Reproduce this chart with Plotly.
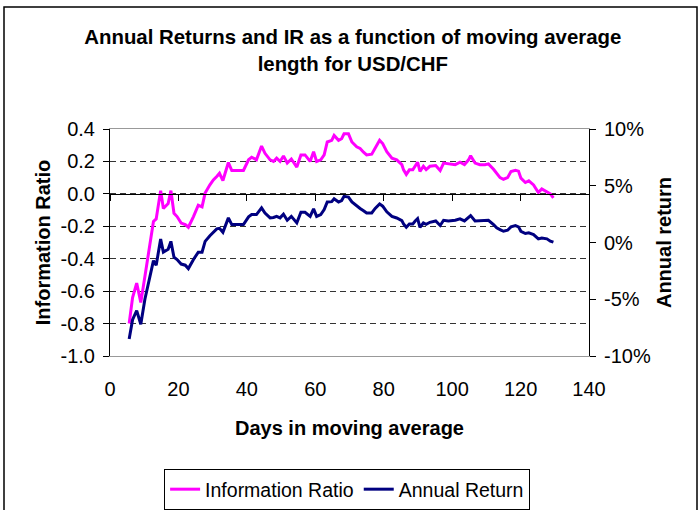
import plotly.graph_objects as go

# Days in moving average (x positions)
days = [5.6, 6.6, 7.8, 9.0, 10.2, 12.7, 13.5, 14.8, 15.6, 17.0, 17.8, 18.7, 19.6,
        20.8, 22.0, 22.9, 24.4, 25.8, 26.9, 27.8, 29.2, 30.2, 31.2, 32.0, 33.0,
        34.6, 35.6, 39.0, 40.5, 41.4, 42.8, 44.3, 45.3, 46.8, 47.8, 48.7, 49.7,
        50.7, 51.8, 53.0, 54.6, 55.8, 57.0, 58.5, 59.5, 60.4, 61.6, 62.6, 63.5,
        64.8, 65.5, 66.8, 67.7, 68.4, 69.7, 70.7, 72.1, 73.1, 74.1, 75.0, 76.5,
        77.5, 78.8, 79.7, 80.9, 82.4, 83.8, 85.3, 85.8, 86.6, 87.5, 88.5, 89.2,
        89.9, 90.6, 91.6, 92.4, 93.5, 95.2, 96.5, 97.5, 98.9, 100.9, 102.3, 103.6,
        104.8, 105.4, 106.7, 108.1, 109.6, 110.6, 112.1, 113.0, 114.0, 115.0,
        116.2, 117.2, 118.5, 119.4, 120.1, 121.4, 122.4, 123.8, 125.2, 126.2,
        127.7, 128.7, 129.6]

information_ratio = [-0.80, -0.64, -0.55, -0.67, -0.51, -0.17, -0.155, 0.02, -0.09, -0.06,
                     0.02, -0.12, -0.14, -0.18, -0.19, -0.206, -0.14, -0.07, -0.08, 0.005,
                     0.056, 0.086, 0.107, 0.127, 0.082, 0.193, 0.144, 0.144, 0.21, 0.226,
                     0.21, 0.295, 0.25, 0.21, 0.20, 0.22, 0.20, 0.234, 0.19, 0.215, 0.165,
                     0.24, 0.24, 0.20, 0.26, 0.20, 0.21, 0.24, 0.32, 0.33, 0.36, 0.33, 0.34,
                     0.37, 0.37, 0.32, 0.29, 0.28, 0.257, 0.24, 0.245, 0.28, 0.33, 0.31,
                     0.26, 0.22, 0.21, 0.18, 0.148, 0.12, 0.148, 0.148, 0.17, 0.195, 0.138,
                     0.17, 0.15, 0.17, 0.175, 0.144, 0.19, 0.185, 0.18, 0.195, 0.18, 0.21,
                     0.235, 0.19, 0.18, 0.18, 0.185, 0.152, 0.128, 0.10, 0.09, 0.10, 0.138,
                     0.145, 0.14, 0.097, 0.07, 0.08, 0.055, 0.008, 0.03, 0.015, 0.0, -0.025]

annual_return = [-0.085, -0.068, -0.060, -0.072, -0.050, -0.016, -0.020, 0.003, -0.0085,
                 -0.006, 0.001, -0.013, -0.015, -0.019, -0.020, -0.023, -0.015, -0.0085,
                 -0.0085, 0.001, 0.006, 0.009, 0.012, 0.0125, 0.009, 0.0217, 0.0158,
                 0.0158, 0.0226, 0.0246, 0.0246, 0.0305, 0.026, 0.0217, 0.022, 0.023,
                 0.0217, 0.025, 0.0196, 0.023, 0.0173, 0.0266, 0.0266, 0.023, 0.0296,
                 0.023, 0.0246, 0.029, 0.0357, 0.036, 0.0386, 0.0357, 0.037, 0.0407,
                 0.040, 0.0357, 0.032, 0.030, 0.028, 0.026, 0.026, 0.030, 0.034, 0.032,
                 0.027, 0.023, 0.0216, 0.0193, 0.0164, 0.0134, 0.0164, 0.0164, 0.019,
                 0.021, 0.0134, 0.0172, 0.016, 0.0178, 0.019, 0.015, 0.0196, 0.019,
                 0.0196, 0.0208, 0.019, 0.022, 0.0237, 0.019, 0.019, 0.019, 0.0196,
                 0.0158, 0.0129, 0.0114, 0.0099, 0.0108, 0.0138, 0.0149, 0.0138, 0.0099,
                 0.0079, 0.0085, 0.007, 0.0032, 0.004, 0.0032, 0.0012, 0.0003]

x_ticks = [0, 20, 40, 60, 80, 100, 120, 140]
ir_ticks = [0.4, 0.2, 0.0, -0.2, -0.4, -0.6, -0.8, -1.0]
ir_tick_labels = ["0.4", "0.2", "0.0", "-0.2", "-0.4", "-0.6", "-0.8", "-1.0"]
ret_ticks = [0.10, 0.05, 0.0, -0.05, -0.10]
ret_tick_labels = ["10%", "5%", "0%", "-5%", "-10%"]

FONT = "Liberation Sans, Arial, sans-serif"

fig = go.Figure()
fig.add_trace(go.Scatter(x=days, y=information_ratio, name="Information Ratio",
                         mode="lines", line=dict(color="#FF00FF", width=3),
                         yaxis="y"))
fig.add_trace(go.Scatter(x=days, y=annual_return, name="Annual Return",
                         mode="lines", line=dict(color="#000080", width=3),
                         yaxis="y2"))
# helper trace so the zero-crossing tick axis is drawn
fig.add_trace(go.Scatter(x=[None], y=[None], xaxis="x2", yaxis="y",
                         showlegend=False, hoverinfo="skip"))

fig.update_layout(
    width=700, height=510,
    margin=dict(l=110, r=111, t=129, b=154),
    paper_bgcolor="white", plot_bgcolor="white",
    font=dict(family=FONT, size=20, color="black"),
    title=dict(text="Annual Returns and IR as a function of moving average<br>length for USD/CHF",
               x=0.504, xref="container", xanchor="center",
               y=1 - 44 / 510, yref="container", yanchor="top",
               font=dict(family=FONT, size=20.4, color="black", weight="bold")),
    xaxis=dict(range=[0, 140], tickvals=x_ticks, ticks="", showgrid=False,
               zeroline=False, showline=True, linecolor="#999999", linewidth=1,
               mirror=True, ticklabelstandoff=15, automargin=False,
               tickfont=dict(family=FONT, size=20),
               title=dict(text="Days in moving average", standoff=21,
                          font=dict(family=FONT, size=20, weight="bold"))),
    xaxis2=dict(range=[0, 140], tickvals=x_ticks, overlaying="x", anchor="free",
                position=1 / 1.4, side="bottom", ticks="outside", ticklen=6,
                tickcolor="black", showticklabels=False, showgrid=False,
                zeroline=False, showline=True, linecolor="black", linewidth=1),
    yaxis=dict(range=[-1.0, 0.4], tickvals=ir_ticks, ticktext=ir_tick_labels,
               ticks="outside", ticklen=6, tickcolor="black",
               showline=True, linecolor="black", linewidth=1,
               showgrid=True, gridcolor="#333333", griddash="6px,4px", gridwidth=1,
               zeroline=False, ticklabelstandoff=4, automargin=False,
               tickfont=dict(family=FONT, size=20),
               title=dict(text="Information Ratio", standoff=4,
                          font=dict(family=FONT, size=20, weight="bold"))),
    yaxis2=dict(range=[-0.10, 0.10], tickvals=ret_ticks, ticktext=ret_tick_labels,
                overlaying="y", side="right", anchor="x",
                ticks="outside", ticklen=6, tickcolor="black",
                showline=True, linecolor="black", linewidth=1,
                showgrid=False, zeroline=False, ticklabelstandoff=4, automargin=False,
                tickfont=dict(family=FONT, size=20),
                title=dict(text="Annual return", standoff=7,
                           font=dict(family=FONT, size=20, weight="bold"))),
    legend=dict(orientation="h", x=0.495, xanchor="center", xref="paper",
                y=1 - 469 / 510, yanchor="top", yref="container",
                bordercolor="black", borderwidth=1, bgcolor="white",
                font=dict(family=FONT, size=19.5), itemwidth=30, tracegroupgap=0),
    showlegend=True,
)

# outer chart-area frame
fig.add_shape(type="rect", xref="paper", yref="paper",
              x0=(4 - 110) / 479, x1=(697 - 110) / 479,
              y0=(356 - 520) / 227, y1=(356 - 7) / 227,
              line=dict(color="black", width=1.5), fillcolor="rgba(0,0,0,0)",
              layer="above")

fig.write_html("out.html", config={"displayModeBar": False},
               post_script="document.body.style.margin='0px';")
